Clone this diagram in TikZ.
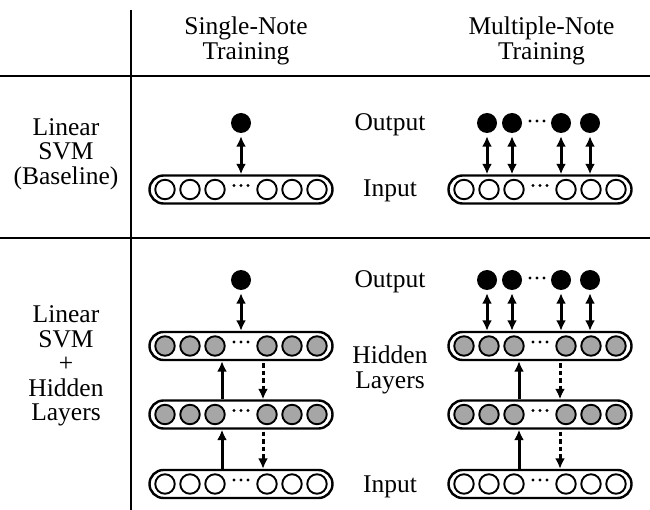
\documentclass[tikz,border=0pt]{standalone}
\usepackage{fontspec}
\setmainfont{Liberation Serif}
\usetikzlibrary{arrows.meta}

% one layer: a rounded bar holding six units and an ellipsis
\newcommand{\layerbar}[3]{%
  \node[pill] (#1) at (#2) {};
  \foreach \dx [count=\k] in {-76,-51,-26,26,51,76}
    \node[unit,fill=#3] (#1-\k) at ([xshift=\dx pt]#1.center) {};
  \foreach \dx in {-7,0,7}
    \fill ([xshift=\dx pt,yshift=4pt]#1.center) circle (1.6pt);
}

\begin{document}
\begin{tikzpicture}[x=1pt,y=-1pt,
  lbl/.style={font=\fontsize{25.5}{24.5}\selectfont, align=center, inner sep=0pt},
  pill/.style={draw, line width=2.4pt, rounded corners=14pt,
    minimum width=183pt, minimum height=28pt, inner sep=0pt},
  unit/.style={circle, draw, line width=1.9pt, minimum size=19.5pt, inner sep=0pt},
  outn/.style={circle, fill=black, minimum size=20pt, inner sep=0pt},
  link/.style={line width=3pt, {Latex[length=10.5pt,width=10pt]}-{Latex[length=10.5pt,width=10pt]}, shorten <=3pt},
  fwd/.style={line width=3pt, -{Latex[length=10.5pt,width=10pt]}},
  bwd/.style={line width=3pt, dash pattern=on 4.5pt off 3pt, -{Latex[length=10.5pt,width=10pt]}, shorten <=2pt},
  rule/.style={line width=1.9pt}]

\useasboundingbox (0,0) rectangle (650,510);

% table rules
\coordinate (vt) at (131,10);
\coordinate (vb) at (131,510);
\coordinate (h1l) at (0,76);
\coordinate (h1r) at (650,76);
\coordinate (h2l) at (0,238);
\coordinate (h2r) at (650,238);
\draw[rule] (vt) -- (vb);
\draw[rule] (h1l) -- (h1r);
\draw[rule] (h2l) -- (h2r);

% headings
\node[lbl] (hsingle) at (246,41) {Single-Note\\Training};
\node[lbl] (hmulti) at (541.5,41) {Multiple-Note\\Training};
\node[lbl] (rbase) at (66,154) {Linear\\SVM\\(Baseline)};
\node[lbl] (rhid) at (66,366) {Linear\\SVM\\+\\Hidden\\Layers};

% middle labels
\node[lbl,anchor=base] (lo1) at (390,131) {Output};
\node[lbl,anchor=base] (li1) at (390,197) {Input};
\node[lbl,anchor=base] (lo2) at (390,288) {Output};
\node[lbl] (lh2) at (390,370) {Hidden\\Layers};
\node[lbl,anchor=base] (li2) at (390,492) {Input};

% ---------- baseline, single note ----------
\layerbar{sa}{241,189.5}{white}
\node[outn] (sao) at (241,123) {};
\draw[link] (sao.south) -- (sao.south |- sa.north);

% ---------- baseline, multiple note ----------
\layerbar{ma}{540,189.5}{white}
\foreach \x [count=\k] in {487,512,561,590}{
  \node[outn] (mao\k) at (\x,123) {};
  \draw[link] (mao\k.south) -- (mao\k.south |- ma.north);
}
\foreach \x in {530,537,544}
  \fill (\x,121) circle (1.6pt);

% ---------- hidden layers, single note ----------
\layerbar{sb1}{241,346}{black!35}
\layerbar{sb2}{241,414.5}{black!35}
\layerbar{sb3}{241,484}{white}
\node[outn] (sbo) at (241,280) {};
\draw[link] (sbo.south) -- (sbo.south |- sb1.north);
\draw[fwd] ([xshift=-19pt]sb2.north) -- ([xshift=-19pt]sb1.south);
\draw[bwd] ([xshift=22pt]sb1.south) -- ([xshift=22pt]sb2.north);
\draw[fwd] ([xshift=-19pt]sb3.north) -- ([xshift=-19pt]sb2.south);
\draw[bwd] ([xshift=22pt]sb2.south) -- ([xshift=22pt]sb3.north);

% ---------- hidden layers, multiple note ----------
\layerbar{mb1}{540,346}{black!35}
\layerbar{mb2}{540,414.5}{black!35}
\layerbar{mb3}{540,484}{white}
\foreach \x [count=\k] in {487,512,561,590}{
  \node[outn] (mbo\k) at (\x,280) {};
  \draw[link] (mbo\k.south) -- (mbo\k.south |- mb1.north);
}
\foreach \x in {530,537,544}
  \fill (\x,278) circle (1.6pt);
\draw[fwd] ([xshift=-21pt]mb2.north) -- ([xshift=-21pt]mb1.south);
\draw[bwd] ([xshift=20pt]mb1.south) -- ([xshift=20pt]mb2.north);
\draw[fwd] ([xshift=-21pt]mb3.north) -- ([xshift=-21pt]mb2.south);
\draw[bwd] ([xshift=20pt]mb2.south) -- ([xshift=20pt]mb3.north);

\end{tikzpicture}
\end{document}
